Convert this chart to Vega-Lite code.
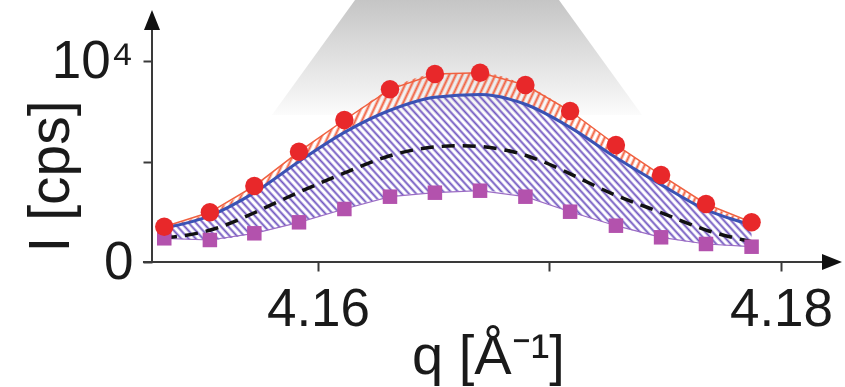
{
"$schema":"https://vega.github.io/schema/vega-lite/v6.json",
"width":693,"height":262,
"autosize":{"type":"none"},
"padding":{"left":152,"top":0,"right":0,"bottom":125},
"background":"white",
"config":{"view":{"stroke":null},"font":"Liberation Sans"},
"datasets":{
"pts":[
{"q":4.15336,"red":1756,"blue":1692,"dash":1194,"sq":1179},
{"q":4.15533,"red":2473,"blue":2300,"dash":1458,"sq":1095},
{"q":4.15725,"red":3781,"blue":3450,"dash":2438,"sq":1428},
{"q":4.15918,"red":5487,"blue":5000,"dash":3497,"sq":1975},
{"q":4.16114,"red":7065,"blue":6450,"dash":4428,"sq":2637},
{"q":4.16311,"red":8592,"blue":7550,"dash":5373,"sq":3249},
{"q":4.16505,"red":9353,"blue":8200,"dash":5786,"sq":3448},
{"q":4.16700,"red":9418,"blue":8330,"dash":5821,"sq":3547},
{"q":4.16896,"red":8806,"blue":7850,"dash":5408,"sq":3249},
{"q":4.17089,"red":7512,"blue":6700,"dash":4413,"sq":2502},
{"q":4.17287,"red":5821,"blue":5200,"dash":3249,"sq":1806},
{"q":4.17482,"red":4328,"blue":3850,"dash":2502,"sq":1229},
{"q":4.17676,"red":2886,"blue":2600,"dash":1507,"sq":896},
{"q":4.17873,"red":1975,"blue":1841,"dash":1010,"sq":761}
],
"bg":[
{"q":4.15801,"top":7313,"bottom":7313},
{"q":4.16160,"top":13035,"bottom":7313},
{"q":4.17041,"top":13035,"bottom":7313},
{"q":4.17400,"top":7313,"bottom":7313}
],
"axes":[{"x0":4.15283,"xa":4.15244,"xb":4.1821,"y0":0,"ytop":12040,"xarrow":4.182203}]
},
"layer":[
{"data":{"name":"bg"},
"mark":{"type":"area","stroke":null,"fill":{"gradient":"linear","x1":0,"y1":0,"x2":0,"y2":1,"stops":[{"offset":0,"color":"#c5c5c5"},{"offset":0.55,"color":"#e3e3e3"},{"offset":0.85,"color":"#f3f3f3"},{"offset":1,"color":"#fcfcfc"}]}},
"encoding":{
"x":{"field":"q","type":"quantitative","scale":{"domain":[4.15283,4.182765],"nice":false,"zero":false},
"axis":{"values":[4.16,4.17,4.18],"domain":false,"grid":false,"ticks":true,"tickSize":9,"tickWidth":2,"tickColor":"#3a3a3a","labelExpr":"datum.value<4.165?'4.16':(datum.value>4.175?'4.18':'')","labelFont":"Liberation Sans","labelFontSize":53,"labelColor":"#1a1a1a","labelPadding":12,"labelDx":8,"labelFlush":false,"labelOverlap":false,"title":"q [Å⁻¹]","titleFont":"Liberation Sans","titleFontSize":56,"titleFontWeight":"normal","titleColor":"#1a1a1a","titleX":336,"titleY":111,"titleBaseline":"alphabetic","titleAlign":"center"}},
"y":{"field":"top","type":"quantitative","scale":{"domain":[0,13035],"nice":false,"zero":false},
"axis":{"values":[0,5000,10000],"domain":false,"grid":false,"ticks":true,"tickSize":9,"tickWidth":2,"tickColor":"#3a3a3a","labelExpr":"datum.value==10000?'10⁴':(datum.value==0?'0':'')","labelFont":"Liberation Sans","labelFontSize":53,"labelColor":"#1a1a1a","labelPadding":10,"labelFlush":false,"labelOverlap":false,"title":"I [cps]","titleFont":"Liberation Sans","titleFontSize":57,"titleFontWeight":"normal","titleColor":"#1a1a1a","titleAngle":-90,"titleX":-84,"titleY":176,"titleBaseline":"alphabetic","titleAlign":"center"}},
"y2":{"field":"bottom"}}},
{"data":{"name":"pts"},"mark":{"type":"area","interpolate":"monotone","stroke":null,"fillOpacity":1,"fill":{"gradient":"linear","x1":0,"y1":1,"x2":1.171,"y2":0.7231,"stops":[
{"offset":0,"color":"#6f55c000"},{"offset":0.0035,"color":"#6f55c0"},{"offset":0.007,"color":"#6f55c000"},
{"offset":0.01,"color":"#6f55c000"},{"offset":0.0135,"color":"#6f55c0"},{"offset":0.017,"color":"#6f55c000"},
{"offset":0.02,"color":"#6f55c000"},{"offset":0.0235,"color":"#6f55c0"},{"offset":0.027,"color":"#6f55c000"},
{"offset":0.03,"color":"#6f55c000"},{"offset":0.0335,"color":"#6f55c0"},{"offset":0.037,"color":"#6f55c000"},
{"offset":0.04,"color":"#6f55c000"},{"offset":0.0435,"color":"#6f55c0"},{"offset":0.047,"color":"#6f55c000"},
{"offset":0.05,"color":"#6f55c000"},{"offset":0.0535,"color":"#6f55c0"},{"offset":0.057,"color":"#6f55c000"},
{"offset":0.06,"color":"#6f55c000"},{"offset":0.0635,"color":"#6f55c0"},{"offset":0.067,"color":"#6f55c000"},
{"offset":0.07,"color":"#6f55c000"},{"offset":0.0735,"color":"#6f55c0"},{"offset":0.077,"color":"#6f55c000"},
{"offset":0.08,"color":"#6f55c000"},{"offset":0.0835,"color":"#6f55c0"},{"offset":0.087,"color":"#6f55c000"},
{"offset":0.09,"color":"#6f55c000"},{"offset":0.0935,"color":"#6f55c0"},{"offset":0.097,"color":"#6f55c000"},
{"offset":0.1,"color":"#6f55c000"},{"offset":0.1035,"color":"#6f55c0"},{"offset":0.107,"color":"#6f55c000"},
{"offset":0.11,"color":"#6f55c000"},{"offset":0.1135,"color":"#6f55c0"},{"offset":0.117,"color":"#6f55c000"},
{"offset":0.12,"color":"#6f55c000"},{"offset":0.1235,"color":"#6f55c0"},{"offset":0.127,"color":"#6f55c000"},
{"offset":0.13,"color":"#6f55c000"},{"offset":0.1335,"color":"#6f55c0"},{"offset":0.137,"color":"#6f55c000"},
{"offset":0.14,"color":"#6f55c000"},{"offset":0.1435,"color":"#6f55c0"},{"offset":0.147,"color":"#6f55c000"},
{"offset":0.15,"color":"#6f55c000"},{"offset":0.1535,"color":"#6f55c0"},{"offset":0.157,"color":"#6f55c000"},
{"offset":0.16,"color":"#6f55c000"},{"offset":0.1635,"color":"#6f55c0"},{"offset":0.167,"color":"#6f55c000"},
{"offset":0.17,"color":"#6f55c000"},{"offset":0.1735,"color":"#6f55c0"},{"offset":0.177,"color":"#6f55c000"},
{"offset":0.18,"color":"#6f55c000"},{"offset":0.1835,"color":"#6f55c0"},{"offset":0.187,"color":"#6f55c000"},
{"offset":0.19,"color":"#6f55c000"},{"offset":0.1935,"color":"#6f55c0"},{"offset":0.197,"color":"#6f55c000"},
{"offset":0.2,"color":"#6f55c000"},{"offset":0.2035,"color":"#6f55c0"},{"offset":0.207,"color":"#6f55c000"},
{"offset":0.21,"color":"#6f55c000"},{"offset":0.2135,"color":"#6f55c0"},{"offset":0.217,"color":"#6f55c000"},
{"offset":0.22,"color":"#6f55c000"},{"offset":0.2235,"color":"#6f55c0"},{"offset":0.227,"color":"#6f55c000"},
{"offset":0.23,"color":"#6f55c000"},{"offset":0.2335,"color":"#6f55c0"},{"offset":0.237,"color":"#6f55c000"},
{"offset":0.24,"color":"#6f55c000"},{"offset":0.2435,"color":"#6f55c0"},{"offset":0.247,"color":"#6f55c000"},
{"offset":0.25,"color":"#6f55c000"},{"offset":0.2535,"color":"#6f55c0"},{"offset":0.257,"color":"#6f55c000"},
{"offset":0.26,"color":"#6f55c000"},{"offset":0.2635,"color":"#6f55c0"},{"offset":0.267,"color":"#6f55c000"},
{"offset":0.27,"color":"#6f55c000"},{"offset":0.2735,"color":"#6f55c0"},{"offset":0.277,"color":"#6f55c000"},
{"offset":0.28,"color":"#6f55c000"},{"offset":0.2835,"color":"#6f55c0"},{"offset":0.287,"color":"#6f55c000"},
{"offset":0.29,"color":"#6f55c000"},{"offset":0.2935,"color":"#6f55c0"},{"offset":0.297,"color":"#6f55c000"},
{"offset":0.3,"color":"#6f55c000"},{"offset":0.3035,"color":"#6f55c0"},{"offset":0.307,"color":"#6f55c000"},
{"offset":0.31,"color":"#6f55c000"},{"offset":0.3135,"color":"#6f55c0"},{"offset":0.317,"color":"#6f55c000"},
{"offset":0.32,"color":"#6f55c000"},{"offset":0.3235,"color":"#6f55c0"},{"offset":0.327,"color":"#6f55c000"},
{"offset":0.33,"color":"#6f55c000"},{"offset":0.3335,"color":"#6f55c0"},{"offset":0.337,"color":"#6f55c000"},
{"offset":0.34,"color":"#6f55c000"},{"offset":0.3435,"color":"#6f55c0"},{"offset":0.347,"color":"#6f55c000"},
{"offset":0.35,"color":"#6f55c000"},{"offset":0.3535,"color":"#6f55c0"},{"offset":0.357,"color":"#6f55c000"},
{"offset":0.36,"color":"#6f55c000"},{"offset":0.3635,"color":"#6f55c0"},{"offset":0.367,"color":"#6f55c000"},
{"offset":0.37,"color":"#6f55c000"},{"offset":0.3735,"color":"#6f55c0"},{"offset":0.377,"color":"#6f55c000"},
{"offset":0.38,"color":"#6f55c000"},{"offset":0.3835,"color":"#6f55c0"},{"offset":0.387,"color":"#6f55c000"},
{"offset":0.39,"color":"#6f55c000"},{"offset":0.3935,"color":"#6f55c0"},{"offset":0.397,"color":"#6f55c000"},
{"offset":0.4,"color":"#6f55c000"},{"offset":0.4035,"color":"#6f55c0"},{"offset":0.407,"color":"#6f55c000"},
{"offset":0.41,"color":"#6f55c000"},{"offset":0.4135,"color":"#6f55c0"},{"offset":0.417,"color":"#6f55c000"},
{"offset":0.42,"color":"#6f55c000"},{"offset":0.4235,"color":"#6f55c0"},{"offset":0.427,"color":"#6f55c000"},
{"offset":0.43,"color":"#6f55c000"},{"offset":0.4335,"color":"#6f55c0"},{"offset":0.437,"color":"#6f55c000"},
{"offset":0.44,"color":"#6f55c000"},{"offset":0.4435,"color":"#6f55c0"},{"offset":0.447,"color":"#6f55c000"},
{"offset":0.45,"color":"#6f55c000"},{"offset":0.4535,"color":"#6f55c0"},{"offset":0.457,"color":"#6f55c000"},
{"offset":0.46,"color":"#6f55c000"},{"offset":0.4635,"color":"#6f55c0"},{"offset":0.467,"color":"#6f55c000"},
{"offset":0.47,"color":"#6f55c000"},{"offset":0.4735,"color":"#6f55c0"},{"offset":0.477,"color":"#6f55c000"},
{"offset":0.48,"color":"#6f55c000"},{"offset":0.4835,"color":"#6f55c0"},{"offset":0.487,"color":"#6f55c000"},
{"offset":0.49,"color":"#6f55c000"},{"offset":0.4935,"color":"#6f55c0"},{"offset":0.497,"color":"#6f55c000"},
{"offset":0.5,"color":"#6f55c000"},{"offset":0.5035,"color":"#6f55c0"},{"offset":0.507,"color":"#6f55c000"},
{"offset":0.51,"color":"#6f55c000"},{"offset":0.5135,"color":"#6f55c0"},{"offset":0.517,"color":"#6f55c000"},
{"offset":0.52,"color":"#6f55c000"},{"offset":0.5235,"color":"#6f55c0"},{"offset":0.527,"color":"#6f55c000"},
{"offset":0.53,"color":"#6f55c000"},{"offset":0.5335,"color":"#6f55c0"},{"offset":0.537,"color":"#6f55c000"},
{"offset":0.54,"color":"#6f55c000"},{"offset":0.5435,"color":"#6f55c0"},{"offset":0.547,"color":"#6f55c000"},
{"offset":0.55,"color":"#6f55c000"},{"offset":0.5535,"color":"#6f55c0"},{"offset":0.557,"color":"#6f55c000"},
{"offset":0.56,"color":"#6f55c000"},{"offset":0.5635,"color":"#6f55c0"},{"offset":0.567,"color":"#6f55c000"},
{"offset":0.57,"color":"#6f55c000"},{"offset":0.5735,"color":"#6f55c0"},{"offset":0.577,"color":"#6f55c000"},
{"offset":0.58,"color":"#6f55c000"},{"offset":0.5835,"color":"#6f55c0"},{"offset":0.587,"color":"#6f55c000"},
{"offset":0.59,"color":"#6f55c000"},{"offset":0.5935,"color":"#6f55c0"},{"offset":0.597,"color":"#6f55c000"},
{"offset":0.6,"color":"#6f55c000"},{"offset":0.6035,"color":"#6f55c0"},{"offset":0.607,"color":"#6f55c000"},
{"offset":0.61,"color":"#6f55c000"},{"offset":0.6135,"color":"#6f55c0"},{"offset":0.617,"color":"#6f55c000"},
{"offset":0.62,"color":"#6f55c000"},{"offset":0.6235,"color":"#6f55c0"},{"offset":0.627,"color":"#6f55c000"},
{"offset":0.63,"color":"#6f55c000"},{"offset":0.6335,"color":"#6f55c0"},{"offset":0.637,"color":"#6f55c000"},
{"offset":0.64,"color":"#6f55c000"},{"offset":0.6435,"color":"#6f55c0"},{"offset":0.647,"color":"#6f55c000"},
{"offset":0.65,"color":"#6f55c000"},{"offset":0.6535,"color":"#6f55c0"},{"offset":0.657,"color":"#6f55c000"},
{"offset":0.66,"color":"#6f55c000"},{"offset":0.6635,"color":"#6f55c0"},{"offset":0.667,"color":"#6f55c000"},
{"offset":0.67,"color":"#6f55c000"},{"offset":0.6735,"color":"#6f55c0"},{"offset":0.677,"color":"#6f55c000"},
{"offset":0.68,"color":"#6f55c000"},{"offset":0.6835,"color":"#6f55c0"},{"offset":0.687,"color":"#6f55c000"},
{"offset":0.69,"color":"#6f55c000"},{"offset":0.6935,"color":"#6f55c0"},{"offset":0.697,"color":"#6f55c000"},
{"offset":0.7,"color":"#6f55c000"},{"offset":0.7035,"color":"#6f55c0"},{"offset":0.707,"color":"#6f55c000"},
{"offset":0.71,"color":"#6f55c000"},{"offset":0.7135,"color":"#6f55c0"},{"offset":0.717,"color":"#6f55c000"},
{"offset":0.72,"color":"#6f55c000"},{"offset":0.7235,"color":"#6f55c0"},{"offset":0.727,"color":"#6f55c000"},
{"offset":0.73,"color":"#6f55c000"},{"offset":0.7335,"color":"#6f55c0"},{"offset":0.737,"color":"#6f55c000"},
{"offset":0.74,"color":"#6f55c000"},{"offset":0.7435,"color":"#6f55c0"},{"offset":0.747,"color":"#6f55c000"},
{"offset":0.75,"color":"#6f55c000"},{"offset":0.7535,"color":"#6f55c0"},{"offset":0.757,"color":"#6f55c000"},
{"offset":0.76,"color":"#6f55c000"},{"offset":0.7635,"color":"#6f55c0"},{"offset":0.767,"color":"#6f55c000"},
{"offset":0.77,"color":"#6f55c000"},{"offset":0.7735,"color":"#6f55c0"},{"offset":0.777,"color":"#6f55c000"},
{"offset":0.78,"color":"#6f55c000"},{"offset":0.7835,"color":"#6f55c0"},{"offset":0.787,"color":"#6f55c000"},
{"offset":0.79,"color":"#6f55c000"},{"offset":0.7935,"color":"#6f55c0"},{"offset":0.797,"color":"#6f55c000"},
{"offset":0.8,"color":"#6f55c000"},{"offset":0.8035,"color":"#6f55c0"},{"offset":0.807,"color":"#6f55c000"},
{"offset":0.81,"color":"#6f55c000"},{"offset":0.8135,"color":"#6f55c0"},{"offset":0.817,"color":"#6f55c000"},
{"offset":0.82,"color":"#6f55c000"},{"offset":0.8235,"color":"#6f55c0"},{"offset":0.827,"color":"#6f55c000"},
{"offset":0.83,"color":"#6f55c000"},{"offset":0.8335,"color":"#6f55c0"},{"offset":0.837,"color":"#6f55c000"},
{"offset":0.84,"color":"#6f55c000"},{"offset":0.8435,"color":"#6f55c0"},{"offset":0.847,"color":"#6f55c000"},
{"offset":0.85,"color":"#6f55c000"},{"offset":0.8535,"color":"#6f55c0"},{"offset":0.857,"color":"#6f55c000"},
{"offset":0.86,"color":"#6f55c000"},{"offset":0.8635,"color":"#6f55c0"},{"offset":0.867,"color":"#6f55c000"},
{"offset":0.87,"color":"#6f55c000"},{"offset":0.8735,"color":"#6f55c0"},{"offset":0.877,"color":"#6f55c000"},
{"offset":0.88,"color":"#6f55c000"},{"offset":0.8835,"color":"#6f55c0"},{"offset":0.887,"color":"#6f55c000"},
{"offset":0.89,"color":"#6f55c000"},{"offset":0.8935,"color":"#6f55c0"},{"offset":0.897,"color":"#6f55c000"},
{"offset":0.9,"color":"#6f55c000"},{"offset":0.9035,"color":"#6f55c0"},{"offset":0.907,"color":"#6f55c000"},
{"offset":0.91,"color":"#6f55c000"},{"offset":0.9135,"color":"#6f55c0"},{"offset":0.917,"color":"#6f55c000"},
{"offset":0.92,"color":"#6f55c000"},{"offset":0.9235,"color":"#6f55c0"},{"offset":0.927,"color":"#6f55c000"},
{"offset":0.93,"color":"#6f55c000"},{"offset":0.9335,"color":"#6f55c0"},{"offset":0.937,"color":"#6f55c000"},
{"offset":0.94,"color":"#6f55c000"},{"offset":0.9435,"color":"#6f55c0"},{"offset":0.947,"color":"#6f55c000"},
{"offset":0.95,"color":"#6f55c000"},{"offset":0.9535,"color":"#6f55c0"},{"offset":0.957,"color":"#6f55c000"},
{"offset":0.96,"color":"#6f55c000"},{"offset":0.9635,"color":"#6f55c0"},{"offset":0.967,"color":"#6f55c000"},
{"offset":0.97,"color":"#6f55c000"},{"offset":0.9735,"color":"#6f55c0"},{"offset":0.977,"color":"#6f55c000"},
{"offset":0.98,"color":"#6f55c000"},{"offset":0.9835,"color":"#6f55c0"},{"offset":0.987,"color":"#6f55c000"},
{"offset":0.99,"color":"#6f55c000"},{"offset":0.9935,"color":"#6f55c0"},{"offset":0.997,"color":"#6f55c000"}
]}},
"encoding":{"x":{"field":"q","type":"quantitative"},"y":{"field":"blue","type":"quantitative"},"y2":{"field":"sq"}}},
{"data":{"name":"pts"},"mark":{"type":"area","interpolate":"monotone","stroke":null,"fillOpacity":1,"fill":{"gradient":"linear","x1":0,"y1":0,"x2":1.1063,"y2":0.1361,"stops":[
{"offset":0,"color":"#f2603f00"},{"offset":0.0035,"color":"#f2603f"},{"offset":0.007,"color":"#f2603f00"},
{"offset":0.01,"color":"#f2603f00"},{"offset":0.0135,"color":"#f2603f"},{"offset":0.017,"color":"#f2603f00"},
{"offset":0.02,"color":"#f2603f00"},{"offset":0.0235,"color":"#f2603f"},{"offset":0.027,"color":"#f2603f00"},
{"offset":0.03,"color":"#f2603f00"},{"offset":0.0335,"color":"#f2603f"},{"offset":0.037,"color":"#f2603f00"},
{"offset":0.04,"color":"#f2603f00"},{"offset":0.0435,"color":"#f2603f"},{"offset":0.047,"color":"#f2603f00"},
{"offset":0.05,"color":"#f2603f00"},{"offset":0.0535,"color":"#f2603f"},{"offset":0.057,"color":"#f2603f00"},
{"offset":0.06,"color":"#f2603f00"},{"offset":0.0635,"color":"#f2603f"},{"offset":0.067,"color":"#f2603f00"},
{"offset":0.07,"color":"#f2603f00"},{"offset":0.0735,"color":"#f2603f"},{"offset":0.077,"color":"#f2603f00"},
{"offset":0.08,"color":"#f2603f00"},{"offset":0.0835,"color":"#f2603f"},{"offset":0.087,"color":"#f2603f00"},
{"offset":0.09,"color":"#f2603f00"},{"offset":0.0935,"color":"#f2603f"},{"offset":0.097,"color":"#f2603f00"},
{"offset":0.1,"color":"#f2603f00"},{"offset":0.1035,"color":"#f2603f"},{"offset":0.107,"color":"#f2603f00"},
{"offset":0.11,"color":"#f2603f00"},{"offset":0.1135,"color":"#f2603f"},{"offset":0.117,"color":"#f2603f00"},
{"offset":0.12,"color":"#f2603f00"},{"offset":0.1235,"color":"#f2603f"},{"offset":0.127,"color":"#f2603f00"},
{"offset":0.13,"color":"#f2603f00"},{"offset":0.1335,"color":"#f2603f"},{"offset":0.137,"color":"#f2603f00"},
{"offset":0.14,"color":"#f2603f00"},{"offset":0.1435,"color":"#f2603f"},{"offset":0.147,"color":"#f2603f00"},
{"offset":0.15,"color":"#f2603f00"},{"offset":0.1535,"color":"#f2603f"},{"offset":0.157,"color":"#f2603f00"},
{"offset":0.16,"color":"#f2603f00"},{"offset":0.1635,"color":"#f2603f"},{"offset":0.167,"color":"#f2603f00"},
{"offset":0.17,"color":"#f2603f00"},{"offset":0.1735,"color":"#f2603f"},{"offset":0.177,"color":"#f2603f00"},
{"offset":0.18,"color":"#f2603f00"},{"offset":0.1835,"color":"#f2603f"},{"offset":0.187,"color":"#f2603f00"},
{"offset":0.19,"color":"#f2603f00"},{"offset":0.1935,"color":"#f2603f"},{"offset":0.197,"color":"#f2603f00"},
{"offset":0.2,"color":"#f2603f00"},{"offset":0.2035,"color":"#f2603f"},{"offset":0.207,"color":"#f2603f00"},
{"offset":0.21,"color":"#f2603f00"},{"offset":0.2135,"color":"#f2603f"},{"offset":0.217,"color":"#f2603f00"},
{"offset":0.22,"color":"#f2603f00"},{"offset":0.2235,"color":"#f2603f"},{"offset":0.227,"color":"#f2603f00"},
{"offset":0.23,"color":"#f2603f00"},{"offset":0.2335,"color":"#f2603f"},{"offset":0.237,"color":"#f2603f00"},
{"offset":0.24,"color":"#f2603f00"},{"offset":0.2435,"color":"#f2603f"},{"offset":0.247,"color":"#f2603f00"},
{"offset":0.25,"color":"#f2603f00"},{"offset":0.2535,"color":"#f2603f"},{"offset":0.257,"color":"#f2603f00"},
{"offset":0.26,"color":"#f2603f00"},{"offset":0.2635,"color":"#f2603f"},{"offset":0.267,"color":"#f2603f00"},
{"offset":0.27,"color":"#f2603f00"},{"offset":0.2735,"color":"#f2603f"},{"offset":0.277,"color":"#f2603f00"},
{"offset":0.28,"color":"#f2603f00"},{"offset":0.2835,"color":"#f2603f"},{"offset":0.287,"color":"#f2603f00"},
{"offset":0.29,"color":"#f2603f00"},{"offset":0.2935,"color":"#f2603f"},{"offset":0.297,"color":"#f2603f00"},
{"offset":0.3,"color":"#f2603f00"},{"offset":0.3035,"color":"#f2603f"},{"offset":0.307,"color":"#f2603f00"},
{"offset":0.31,"color":"#f2603f00"},{"offset":0.3135,"color":"#f2603f"},{"offset":0.317,"color":"#f2603f00"},
{"offset":0.32,"color":"#f2603f00"},{"offset":0.3235,"color":"#f2603f"},{"offset":0.327,"color":"#f2603f00"},
{"offset":0.33,"color":"#f2603f00"},{"offset":0.3335,"color":"#f2603f"},{"offset":0.337,"color":"#f2603f00"},
{"offset":0.34,"color":"#f2603f00"},{"offset":0.3435,"color":"#f2603f"},{"offset":0.347,"color":"#f2603f00"},
{"offset":0.35,"color":"#f2603f00"},{"offset":0.3535,"color":"#f2603f"},{"offset":0.357,"color":"#f2603f00"},
{"offset":0.36,"color":"#f2603f00"},{"offset":0.3635,"color":"#f2603f"},{"offset":0.367,"color":"#f2603f00"},
{"offset":0.37,"color":"#f2603f00"},{"offset":0.3735,"color":"#f2603f"},{"offset":0.377,"color":"#f2603f00"},
{"offset":0.38,"color":"#f2603f00"},{"offset":0.3835,"color":"#f2603f"},{"offset":0.387,"color":"#f2603f00"},
{"offset":0.39,"color":"#f2603f00"},{"offset":0.3935,"color":"#f2603f"},{"offset":0.397,"color":"#f2603f00"},
{"offset":0.4,"color":"#f2603f00"},{"offset":0.4035,"color":"#f2603f"},{"offset":0.407,"color":"#f2603f00"},
{"offset":0.41,"color":"#f2603f00"},{"offset":0.4135,"color":"#f2603f"},{"offset":0.417,"color":"#f2603f00"},
{"offset":0.42,"color":"#f2603f00"},{"offset":0.4235,"color":"#f2603f"},{"offset":0.427,"color":"#f2603f00"},
{"offset":0.43,"color":"#f2603f00"},{"offset":0.4335,"color":"#f2603f"},{"offset":0.437,"color":"#f2603f00"},
{"offset":0.44,"color":"#f2603f00"},{"offset":0.4435,"color":"#f2603f"},{"offset":0.447,"color":"#f2603f00"},
{"offset":0.45,"color":"#f2603f00"},{"offset":0.4535,"color":"#f2603f"},{"offset":0.457,"color":"#f2603f00"},
{"offset":0.46,"color":"#f2603f00"},{"offset":0.4635,"color":"#f2603f"},{"offset":0.467,"color":"#f2603f00"},
{"offset":0.47,"color":"#f2603f00"},{"offset":0.4735,"color":"#f2603f"},{"offset":0.477,"color":"#f2603f00"},
{"offset":0.48,"color":"#f2603f00"},{"offset":0.4835,"color":"#f2603f"},{"offset":0.487,"color":"#f2603f00"},
{"offset":0.49,"color":"#f2603f00"},{"offset":0.4935,"color":"#f2603f"},{"offset":0.497,"color":"#f2603f00"},
{"offset":0.5,"color":"#f2603f00"},{"offset":0.5035,"color":"#f2603f"},{"offset":0.507,"color":"#f2603f00"},
{"offset":0.51,"color":"#f2603f00"},{"offset":0.5135,"color":"#f2603f"},{"offset":0.517,"color":"#f2603f00"},
{"offset":0.52,"color":"#f2603f00"},{"offset":0.5235,"color":"#f2603f"},{"offset":0.527,"color":"#f2603f00"},
{"offset":0.53,"color":"#f2603f00"},{"offset":0.5335,"color":"#f2603f"},{"offset":0.537,"color":"#f2603f00"},
{"offset":0.54,"color":"#f2603f00"},{"offset":0.5435,"color":"#f2603f"},{"offset":0.547,"color":"#f2603f00"},
{"offset":0.55,"color":"#f2603f00"},{"offset":0.5535,"color":"#f2603f"},{"offset":0.557,"color":"#f2603f00"},
{"offset":0.56,"color":"#f2603f00"},{"offset":0.5635,"color":"#f2603f"},{"offset":0.567,"color":"#f2603f00"},
{"offset":0.57,"color":"#f2603f00"},{"offset":0.5735,"color":"#f2603f"},{"offset":0.577,"color":"#f2603f00"},
{"offset":0.58,"color":"#f2603f00"},{"offset":0.5835,"color":"#f2603f"},{"offset":0.587,"color":"#f2603f00"},
{"offset":0.59,"color":"#f2603f00"},{"offset":0.5935,"color":"#f2603f"},{"offset":0.597,"color":"#f2603f00"},
{"offset":0.6,"color":"#f2603f00"},{"offset":0.6035,"color":"#f2603f"},{"offset":0.607,"color":"#f2603f00"},
{"offset":0.61,"color":"#f2603f00"},{"offset":0.6135,"color":"#f2603f"},{"offset":0.617,"color":"#f2603f00"},
{"offset":0.62,"color":"#f2603f00"},{"offset":0.6235,"color":"#f2603f"},{"offset":0.627,"color":"#f2603f00"},
{"offset":0.63,"color":"#f2603f00"},{"offset":0.6335,"color":"#f2603f"},{"offset":0.637,"color":"#f2603f00"},
{"offset":0.64,"color":"#f2603f00"},{"offset":0.6435,"color":"#f2603f"},{"offset":0.647,"color":"#f2603f00"},
{"offset":0.65,"color":"#f2603f00"},{"offset":0.6535,"color":"#f2603f"},{"offset":0.657,"color":"#f2603f00"},
{"offset":0.66,"color":"#f2603f00"},{"offset":0.6635,"color":"#f2603f"},{"offset":0.667,"color":"#f2603f00"},
{"offset":0.67,"color":"#f2603f00"},{"offset":0.6735,"color":"#f2603f"},{"offset":0.677,"color":"#f2603f00"},
{"offset":0.68,"color":"#f2603f00"},{"offset":0.6835,"color":"#f2603f"},{"offset":0.687,"color":"#f2603f00"},
{"offset":0.69,"color":"#f2603f00"},{"offset":0.6935,"color":"#f2603f"},{"offset":0.697,"color":"#f2603f00"},
{"offset":0.7,"color":"#f2603f00"},{"offset":0.7035,"color":"#f2603f"},{"offset":0.707,"color":"#f2603f00"},
{"offset":0.71,"color":"#f2603f00"},{"offset":0.7135,"color":"#f2603f"},{"offset":0.717,"color":"#f2603f00"},
{"offset":0.72,"color":"#f2603f00"},{"offset":0.7235,"color":"#f2603f"},{"offset":0.727,"color":"#f2603f00"},
{"offset":0.73,"color":"#f2603f00"},{"offset":0.7335,"color":"#f2603f"},{"offset":0.737,"color":"#f2603f00"},
{"offset":0.74,"color":"#f2603f00"},{"offset":0.7435,"color":"#f2603f"},{"offset":0.747,"color":"#f2603f00"},
{"offset":0.75,"color":"#f2603f00"},{"offset":0.7535,"color":"#f2603f"},{"offset":0.757,"color":"#f2603f00"},
{"offset":0.76,"color":"#f2603f00"},{"offset":0.7635,"color":"#f2603f"},{"offset":0.767,"color":"#f2603f00"},
{"offset":0.77,"color":"#f2603f00"},{"offset":0.7735,"color":"#f2603f"},{"offset":0.777,"color":"#f2603f00"},
{"offset":0.78,"color":"#f2603f00"},{"offset":0.7835,"color":"#f2603f"},{"offset":0.787,"color":"#f2603f00"},
{"offset":0.79,"color":"#f2603f00"},{"offset":0.7935,"color":"#f2603f"},{"offset":0.797,"color":"#f2603f00"},
{"offset":0.8,"color":"#f2603f00"},{"offset":0.8035,"color":"#f2603f"},{"offset":0.807,"color":"#f2603f00"},
{"offset":0.81,"color":"#f2603f00"},{"offset":0.8135,"color":"#f2603f"},{"offset":0.817,"color":"#f2603f00"},
{"offset":0.82,"color":"#f2603f00"},{"offset":0.8235,"color":"#f2603f"},{"offset":0.827,"color":"#f2603f00"},
{"offset":0.83,"color":"#f2603f00"},{"offset":0.8335,"color":"#f2603f"},{"offset":0.837,"color":"#f2603f00"},
{"offset":0.84,"color":"#f2603f00"},{"offset":0.8435,"color":"#f2603f"},{"offset":0.847,"color":"#f2603f00"},
{"offset":0.85,"color":"#f2603f00"},{"offset":0.8535,"color":"#f2603f"},{"offset":0.857,"color":"#f2603f00"},
{"offset":0.86,"color":"#f2603f00"},{"offset":0.8635,"color":"#f2603f"},{"offset":0.867,"color":"#f2603f00"},
{"offset":0.87,"color":"#f2603f00"},{"offset":0.8735,"color":"#f2603f"},{"offset":0.877,"color":"#f2603f00"},
{"offset":0.88,"color":"#f2603f00"},{"offset":0.8835,"color":"#f2603f"},{"offset":0.887,"color":"#f2603f00"},
{"offset":0.89,"color":"#f2603f00"},{"offset":0.8935,"color":"#f2603f"},{"offset":0.897,"color":"#f2603f00"},
{"offset":0.9,"color":"#f2603f00"},{"offset":0.9035,"color":"#f2603f"},{"offset":0.907,"color":"#f2603f00"},
{"offset":0.91,"color":"#f2603f00"},{"offset":0.9135,"color":"#f2603f"},{"offset":0.917,"color":"#f2603f00"},
{"offset":0.92,"color":"#f2603f00"},{"offset":0.9235,"color":"#f2603f"},{"offset":0.927,"color":"#f2603f00"},
{"offset":0.93,"color":"#f2603f00"},{"offset":0.9335,"color":"#f2603f"},{"offset":0.937,"color":"#f2603f00"},
{"offset":0.94,"color":"#f2603f00"},{"offset":0.9435,"color":"#f2603f"},{"offset":0.947,"color":"#f2603f00"},
{"offset":0.95,"color":"#f2603f00"},{"offset":0.9535,"color":"#f2603f"},{"offset":0.957,"color":"#f2603f00"},
{"offset":0.96,"color":"#f2603f00"},{"offset":0.9635,"color":"#f2603f"},{"offset":0.967,"color":"#f2603f00"},
{"offset":0.97,"color":"#f2603f00"},{"offset":0.9735,"color":"#f2603f"},{"offset":0.977,"color":"#f2603f00"},
{"offset":0.98,"color":"#f2603f00"},{"offset":0.9835,"color":"#f2603f"},{"offset":0.987,"color":"#f2603f00"},
{"offset":0.99,"color":"#f2603f00"},{"offset":0.9935,"color":"#f2603f"},{"offset":0.997,"color":"#f2603f00"}
]}},
"encoding":{"x":{"field":"q","type":"quantitative"},"y":{"field":"red","type":"quantitative"},"y2":{"field":"blue"}}},
{"data":{"name":"pts"},"mark":{"type":"line","color":"#9b6cc4","strokeWidth":1.2},
"encoding":{"x":{"field":"q","type":"quantitative"},"y":{"field":"sq","type":"quantitative"}}},
{"data":{"name":"pts"},"mark":{"type":"line","color":"#f0603f","strokeWidth":1.5},
"encoding":{"x":{"field":"q","type":"quantitative"},"y":{"field":"red","type":"quantitative"}}},
{"data":{"name":"pts"},"mark":{"type":"line","color":"#3a52b4","strokeWidth":3,"interpolate":"monotone"},
"encoding":{"x":{"field":"q","type":"quantitative"},"y":{"field":"blue","type":"quantitative"}}},
{"data":{"name":"pts"},"mark":{"type":"line","color":"#111111","strokeWidth":3.5,"strokeDash":[13,8],"interpolate":"basis"},
"encoding":{"x":{"field":"q","type":"quantitative"},"y":{"field":"dash","type":"quantitative"}}},
{"data":{"name":"pts"},"mark":{"type":"point","shape":"square","filled":true,"size":210,"color":"#b352ad","opacity":1},
"encoding":{"x":{"field":"q","type":"quantitative"},"y":{"field":"sq","type":"quantitative"}}},
{"data":{"name":"pts"},"mark":{"type":"point","shape":"circle","filled":true,"size":340,"color":"#e8282a","opacity":1},
"encoding":{"x":{"field":"q","type":"quantitative"},"y":{"field":"red","type":"quantitative"}}},
{"data":{"name":"axes"},"mark":{"type":"rule","color":"#3a3a3a","strokeWidth":2},
"encoding":{"x":{"field":"x0","type":"quantitative"},"y":{"field":"y0","type":"quantitative"},"y2":{"field":"ytop"}}},
{"data":{"name":"axes"},"mark":{"type":"rule","color":"#3a3a3a","strokeWidth":2},
"encoding":{"y":{"field":"y0","type":"quantitative"},"x":{"field":"xa","type":"quantitative"},"x2":{"field":"xb"}}},
{"data":{"name":"axes"},"mark":{"type":"point","shape":"M0,-1.25L-1,1.25L1,1.25Z","filled":true,"size":256,"color":"#111111","opacity":1},
"encoding":{"x":{"field":"x0","type":"quantitative"},"y":{"field":"ytop","type":"quantitative"}}},
{"data":{"name":"axes"},"mark":{"type":"point","shape":"M1.25,0L-1.25,-1L-1.25,1Z","filled":true,"size":256,"color":"#111111","opacity":1},
"encoding":{"x":{"field":"xarrow","type":"quantitative"},"y":{"field":"y0","type":"quantitative"}}}
]
}
